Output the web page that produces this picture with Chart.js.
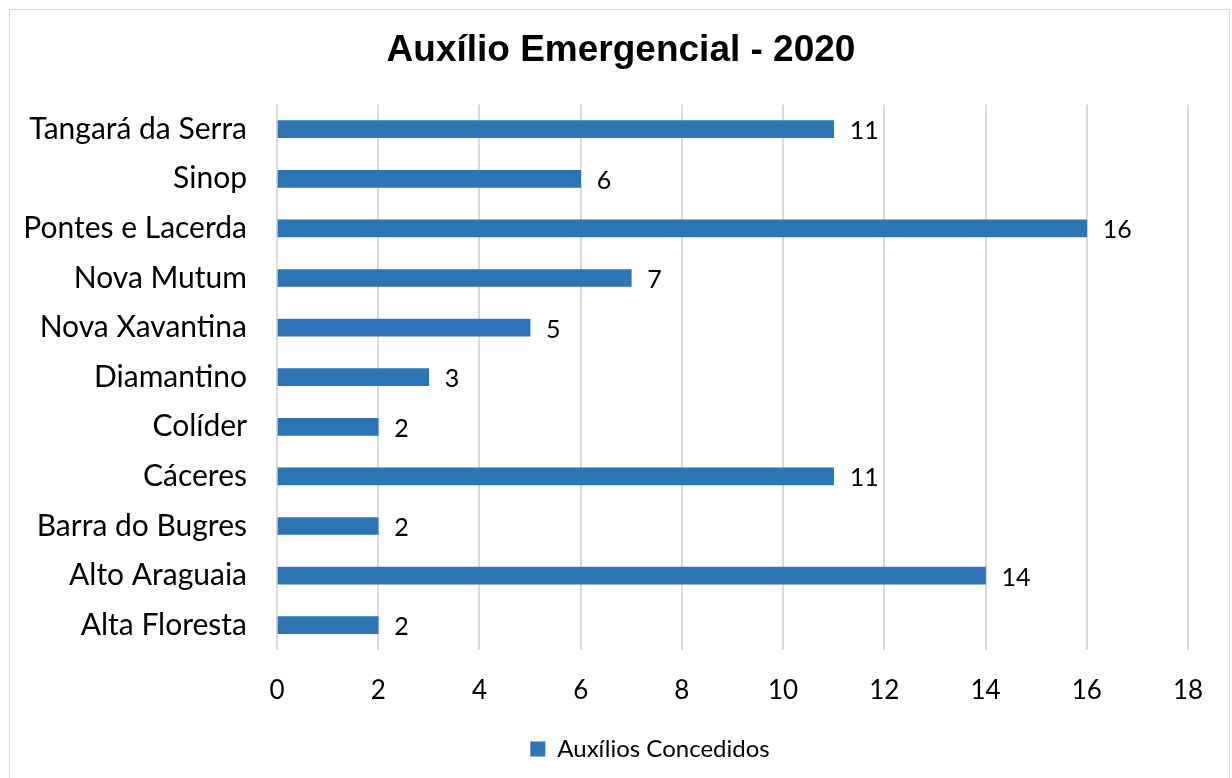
<!DOCTYPE html>
<html><head><meta charset="utf-8">
<script src="https://cdn.jsdelivr.net/npm/chart.js@4/dist/chart.umd.min.js"></script>
<style>
html,body{margin:0;padding:0;background:#fff;}
#wrap{position:relative;width:1232px;height:778px;}
#frame{position:absolute;left:9px;top:9px;width:1221px;height:780px;border:1px solid #d9d9d9;box-sizing:border-box;}
canvas{position:absolute;left:0;top:0;}
</style></head>
<body>
<div id="wrap"><div id="frame"></div><canvas id="c" width="1232" height="778"></canvas></div>
<script>
const categories = ["Tangará da Serra","Sinop","Pontes e Lacerda","Nova Mutum","Nova Xavantina","Diamantino","Colíder","Cáceres","Barra do Bugres","Alto Araguaia","Alta Floresta"];
const auxilios = [11,6,16,7,5,3,2,11,2,14,2];
const seriesName = "Auxílios Concedidos";
const chartTitle = "Auxílio Emergencial - 2020";

const FONT = "Lato, 'Open Sans', sans-serif";

const valueLabels = {
  id:'valueLabels',
  afterDatasetsDraw(chart){
    const ctx = chart.ctx;
    const meta = chart.getDatasetMeta(0);
    ctx.save();
    ctx.font = "25px " + FONT;
    ctx.fillStyle = "#000";
    ctx.textAlign = "left";
    ctx.textBaseline = "middle";
    meta.data.forEach((bar,i)=>{
      ctx.fillText(String(chart.data.datasets[0].data[i]), bar.x + 16, bar.y + 2);
    });
    ctx.restore();
  }
};

// centre title and legend over the framed box like the original
const boxCentering = {
  id:'boxCentering',
  afterLayout(chart){
    if (chart.titleBlock){ chart.titleBlock.left = 0; chart.titleBlock.right = 1242; }
    if (chart.legend){ chart.legend.left = 68; chart.legend.right = 1232; }
  }
};

new Chart(document.getElementById('c'), {
  type:'bar',
  data:{
    labels: categories,
    datasets:[{
      label: seriesName,
      data: auxilios,
      backgroundColor:'#2E75B6',
      borderWidth:0,
      barThickness:17
    }]
  },
  options:{
    indexAxis:'y',
    responsive:false,
    animation:false,
    devicePixelRatio:1,
    layout:{padding:{left:0,right:44,top:0,bottom:7}},
    plugins:{
      title:{display:true,text:chartTitle,color:'#000',
        font:{family:"'Liberation Sans', Arial, sans-serif",size:37,weight:'bold',lineHeight:1.2},
        padding:{top:29,bottom:31}},
      legend:{position:'bottom',
        labels:{color:'#000',font:{family:FONT,size:24},boxWidth:15,boxHeight:15,padding:10}},
      tooltip:{enabled:false}
    },
    scales:{
      x:{min:0,max:18,
        ticks:{stepSize:2,color:'#000',font:{family:FONT,size:26},padding:25},
        grid:{color:'#d9d9d9',lineWidth:2,drawTicks:false},
        border:{display:false},
        afterFit(s){s.height=77;}
      },
      y:{
        ticks:{color:'#000',font:{family:FONT,size:30},padding:30,autoSkip:false},
        grid:{display:false,drawTicks:false},
        border:{display:false},
        afterFit(s){s.width=277;}
      }
    }
  },
  plugins:[valueLabels, boxCentering]
});
</script>
</body></html>
